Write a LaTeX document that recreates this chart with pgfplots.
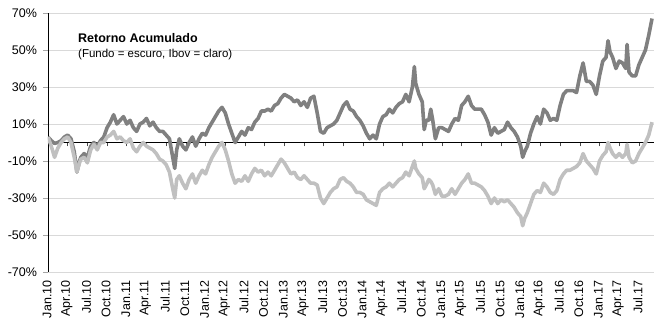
\documentclass[border=0pt]{standalone}
\usepackage{fontspec}
\setmainfont{Liberation Sans}
\usepackage{pgfplots}
\usepackage{pgfplotstable}
\pgfplotsset{compat=1.18}
\definecolor{fundo}{RGB}{128,128,128}
\definecolor{ibov}{RGB}{192,192,192}
\definecolor{gridc}{RGB}{217,217,217}
\pgfplotstableread{
m D L
0 3 3
0.5 1 -2
1 -0.5 -8
1.5 0 -3
2 1 0
2.5 3 2
3 4 3
3.5 2 0
4 -5 -8
4.4 -16 -16
4.8 -10 -11
5 -8 -9
5.5 -6 -8
6 -8 -11
6.5 -2 -4
7 0 -1
7.5 -2 -4
8 1 0
8.5 3 0
9 8 3
9.5 11 4
10 15 6
10.5 10 2
11 12 3
11.5 14 1
12 10 0
12.5 12 2
13 8 -3
13.5 6 -5
14 10 -2
14.5 11 0
15 13 -2
15.5 9 -3
16 11 -4
16.5 8 -6
17 6 -9
17.5 6 -10
18 4 -12
18.5 2 -16
19 -8 -25
19.3 -14 -30
19.6 -4 -20
20 2 -18
20.5 -2 -22
21 -4 -25
21.5 0 -20
22 3 -17
22.5 -2 -22
23 2 -18
23.5 5 -15
24 4 -17
24.5 8 -12
25 11 -8
25.5 14 -5
26 17 -2
26.5 19 0
27 16 -4
27.5 10 -10
28 5 -17
28.5 0 -22
29 3 -20
29.5 6 -21
30 4 -18
30.5 8 -21
31 7 -17
31.5 11 -14
32 13 -16
32.5 17 -15
33 17 -18
33.5 18 -16
34 17 -18
34.5 20 -15
35 21 -12
35.5 24 -9
36 26 -11
36.5 25 -14
37 24 -17
37.5 22 -16
38 23 -19
38.5 20 -20
39 22 -18
39.5 19 -20
40 24 -22
40.5 25 -22
41 16 -23
41.5 6 -30
42 5 -33
42.5 8 -30
43 9 -27
43.5 10 -25
44 12 -24
44.5 16 -20
45 20 -19
45.5 22 -21
46 18 -22
46.5 17 -24
47 14 -27
47.5 12 -27
48 9 -28
48.5 5 -31
49 2 -32
49.5 4 -33
50 2 -34
50.5 10 -27
51 14 -25
51.5 15 -24
52 18 -22
52.5 16 -24
53 19 -22
53.5 21 -20
54 22 -19
54.5 26 -16
55 22 -18
55.5 30 -13
55.8 41 -10
56 32 -14
56.5 26 -17
57 22 -19
57.3 7 -25
57.6 12 -23
58 12 -20
58.3 18 -21
58.6 12 -23
59 2 -28
59.5 8 -25
60 8 -29
60.5 7 -29
61 6 -28
61.5 10 -25
62 13 -28
62.5 12 -25
63 20 -22
63.5 22 -20
64 25 -17
64.5 20 -22
65 18 -22
65.5 18 -23
66 18 -24
66.5 15 -26
67 11 -29
67.5 4 -33
68 8 -30
68.5 5 -33
69 6 -31
69.5 7 -32
70 11 -31
70.5 8 -33
71 6 -35
71.5 3 -38
72 -2 -40
72.3 -8 -45
72.6 -5 -41
73 -2 -38
73.5 5 -33
74 10 -28
74.5 14 -26
75 10 -27
75.5 18 -22
76 16 -24
76.5 12 -27
77 13 -28
77.5 12 -26
78 20 -20
78.5 26 -17
79 28 -15
79.5 28 -15
80 28 -14
80.5 27 -13
81 36 -11
81.5 43 -6
82 33 -10
82.5 33 -12
83 31 -14
83.5 26 -17
84 36 -10
84.5 44 -7
85 46 -5
85.3 55 0
85.6 49 -3
86 46 -6
86.5 40 -8
87 44 -6
87.5 43 -8
88 40 -6
88.2 53 -1
88.5 38 -8
89 36 -11
89.5 36 -10
90 42 -6
90.5 46 -3
91 50 0
91.5 58 4
92 67 11
}\datatable
\begin{document}
\begin{tikzpicture}
\useasboundingbox (-48pt,-46pt) rectangle (606pt,272pt);
% zero line with tick marks (behind the series)
\begin{axis}[
  scale only axis, width=606pt, height=259pt,
  xmin=0, xmax=92.3, ymin=-70, ymax=70,
  axis x line*=middle, axis y line=none,
  xtick={0,3,...,90}, xticklabels={}, ytick=\empty,
  tick align=outside, major tick length=4pt,
  x axis line style={black, line width=0.8pt},
  xtick style={black!70, line width=0.6pt},
]
\end{axis}
\begin{axis}[
  scale only axis, width=606pt, height=259pt,
  xmin=0, xmax=92.3, ymin=-70, ymax=70,
  axis lines*=left,
  x axis line style={draw=none},
  y axis line style={black, line width=0.8pt},
  ytick={-70,-50,-30,-10,10,30,50,70},
  yticklabels={-70\%,-50\%,-30\%,-10\%,10\%,30\%,50\%,70\%},
  ymajorgrids, grid style={color=gridc, line width=0.7pt},
  xtick={0,3,...,90},
  xticklabels={Jan.10,Apr.10,Jul.10,Oct.10,Jan.11,Apr.11,Jul.11,Oct.11,Jan.12,Apr.12,Jul.12,Oct.12,Jan.13,Apr.13,Jul.13,Oct.13,Jan.14,Apr.14,Jul.14,Oct.14,Jan.15,Apr.15,Jul.15,Oct.15,Jan.16,Apr.16,Jul.16,Oct.16,Jan.17,Apr.17,Jul.17},
  xtick style={draw=none},
  ytick style={color=black!35, line width=0.6pt},
  tick align=outside, major tick length=5pt,
  /pgf/number format/assume math mode=true,
  tick label style={font=\fontsize{12.5}{14}\selectfont},
  xticklabel style={rotate=90, anchor=east, yshift=1pt},
  yticklabel style={xshift=-2.5pt},
]
\addplot[fundo, line width=3.6pt, line join=round] table[x=m, y=D] {\datatable};
\addplot[ibov, line width=3.6pt, line join=round] table[x=m, y=L] {\datatable};
\end{axis}
\node[anchor=base west, inner sep=0pt, font=\bfseries\fontsize{12.5}{14}\selectfont] at (30pt,229pt) {Retorno Acumulado};
\node[anchor=base west, inner sep=0pt, font=\fontsize{11.5}{13}\selectfont] at (30pt,214pt) {(Fundo = escuro, Ibov = claro)};
\end{tikzpicture}
\end{document}
